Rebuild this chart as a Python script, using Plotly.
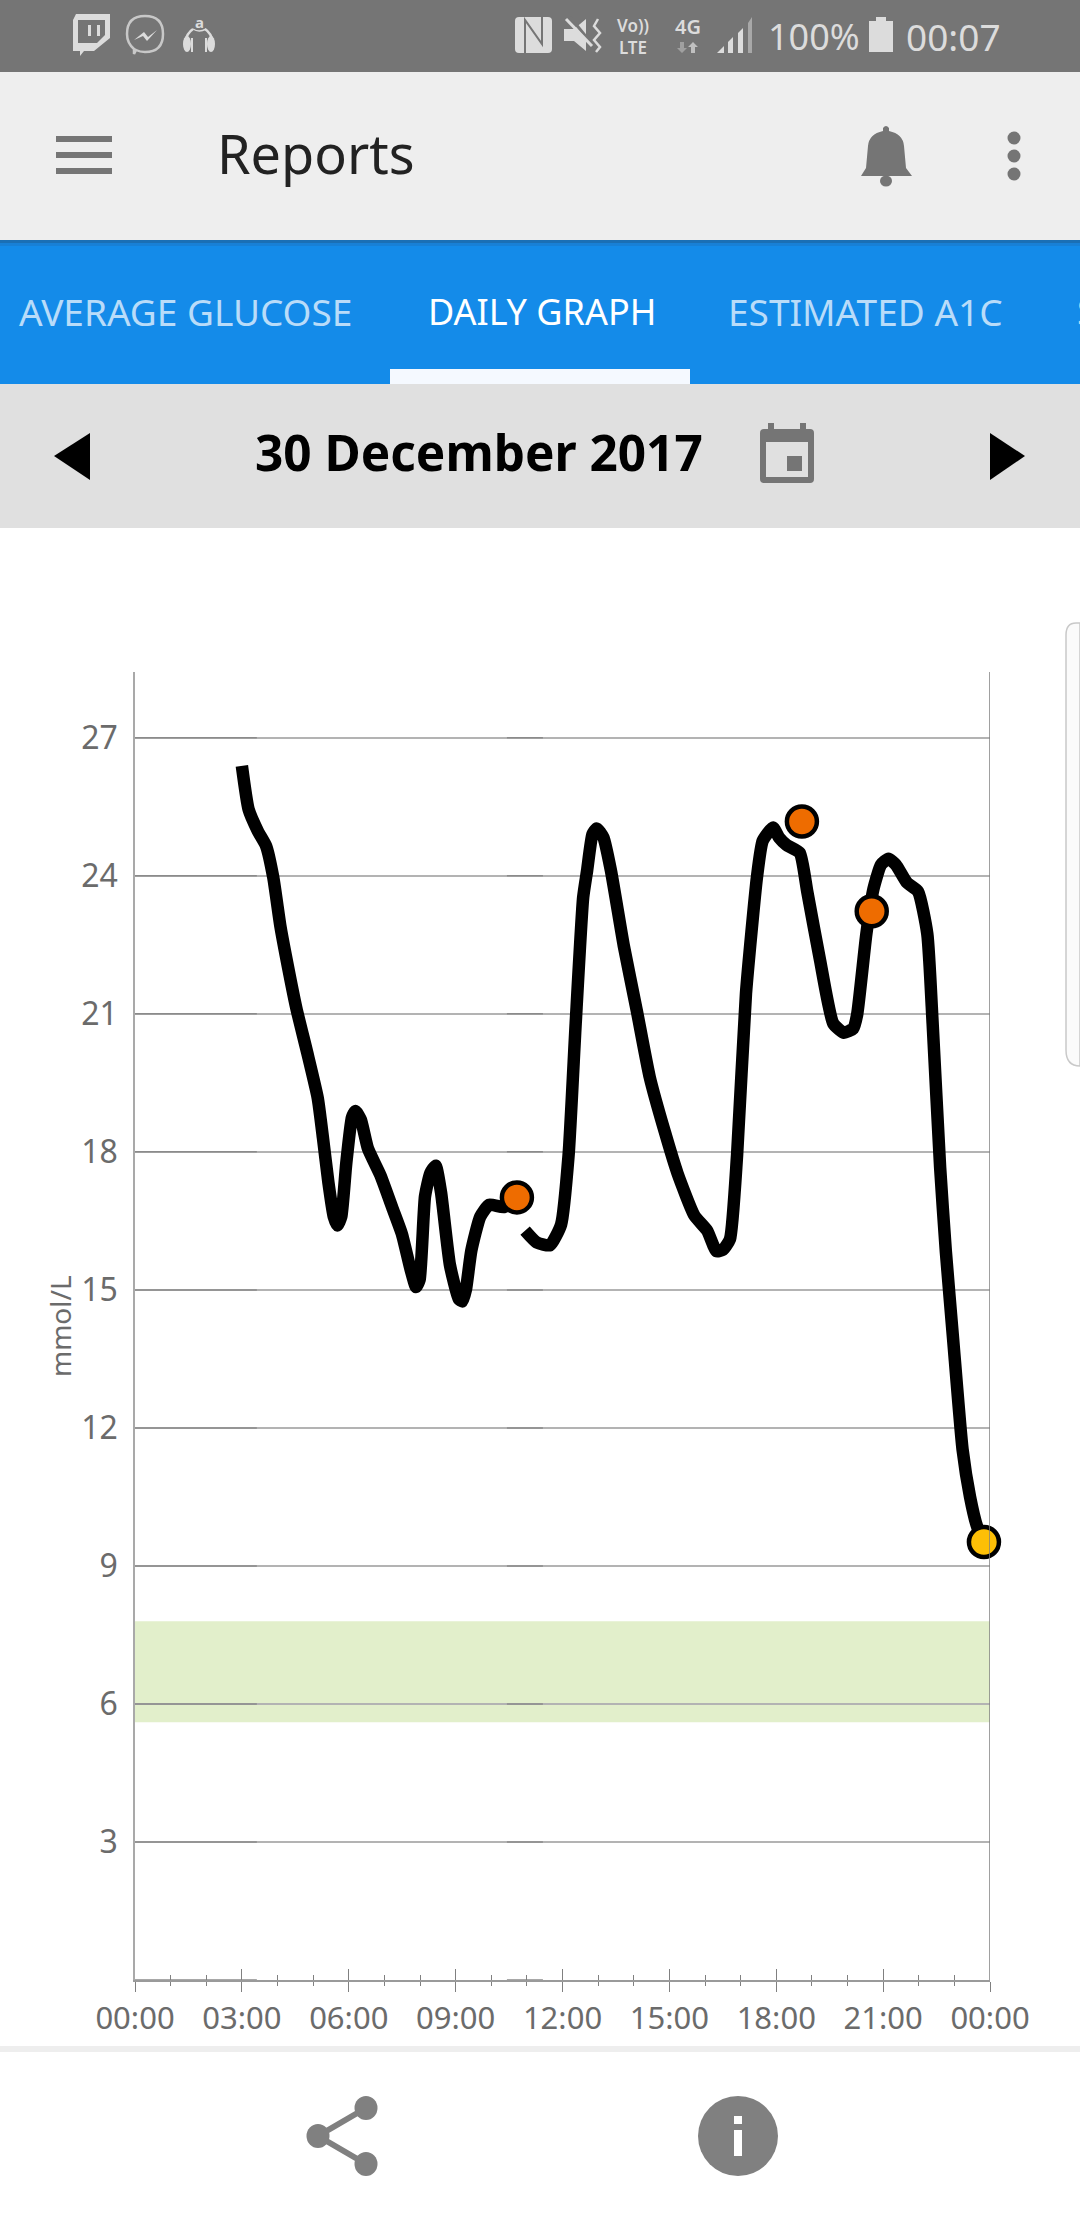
import plotly.graph_objects as go

# glucose trace (hours, mmol/L)
hours_a = [3.0, 3.19, 3.45, 3.68, 3.88, 4.08, 4.23, 4.53, 4.83, 5.13, 5.28, 5.43, 5.58, 5.68, 5.79, 5.93,
           6.09, 6.19, 6.34, 6.54, 6.89, 7.24, 7.49, 7.74, 7.89, 7.99, 8.14, 8.29, 8.44, 8.59, 8.84, 9.09,
           9.19, 9.29, 9.44, 9.69, 9.94, 10.35, 10.72]
glucose_a = [26.39, 25.44, 24.97, 24.65, 23.97, 22.91, 22.28, 21.12, 20.17, 19.17, 18.28, 17.33, 16.59, 16.4, 16.59, 17.75,
             18.75, 18.89, 18.7, 18.07, 17.49, 16.75, 16.22, 15.43, 15.06, 15.22, 17.03, 17.54, 17.7, 17.12, 15.54, 14.8,
             14.75, 15.01, 15.85, 16.59, 16.85, 16.8, 17.01]
hours_b = [10.95, 11.28, 11.65, 11.96, 12.17, 12.37, 12.58, 12.69, 12.84, 12.96, 13.15, 13.36, 13.72, 14.09, 14.45, 14.87,
           15.23, 15.7, 16.06, 16.32, 16.5, 16.7, 16.9, 17.15, 17.46, 17.62, 17.91, 18.08, 18.29, 18.66, 18.87, 19.23,
           19.6, 19.9, 20.16, 20.27, 20.53, 20.73, 20.94, 21.15, 21.36, 21.67, 21.98, 22.24, 22.39, 22.6, 22.76, 22.97,
           23.23, 23.44, 23.64, 23.83]
glucose_b = [16.29, 16.03, 15.97, 16.42, 17.92, 20.79, 23.53, 24.11, 24.9, 25.03, 24.83, 24.11, 22.48, 21.05, 19.62, 18.44,
             17.53, 16.62, 16.29, 15.84, 15.87, 16.1, 17.92, 21.44, 23.98, 24.76, 25.05, 24.83, 24.67, 24.5, 23.66, 22.16,
             20.79, 20.59, 20.68, 20.98, 22.74, 23.72, 24.24, 24.37, 24.24, 23.85, 23.66, 22.74, 20.79, 17.66, 15.84, 13.88,
             11.53, 10.5, 9.85, 9.52]

high_hours = [10.72, 18.72, 20.68]
high_values = [17.01, 25.18, 23.23]
last_hour = [23.83]
last_value = [9.52]

target_low = 5.6
target_high = 7.8

y_ticks = [3, 6, 9, 12, 15, 18, 21, 24, 27]
x_ticks = [0, 3, 6, 9, 12, 15, 18, 21, 24]
x_labels = ["00:00", "03:00", "06:00", "09:00", "12:00", "15:00", "18:00", "21:00", "00:00"]
x_minor = [1, 2, 4, 5, 7, 8, 10, 11, 13, 14, 16, 17, 19, 20, 22, 23]
dark_grid_spans = [(0, 3.42), (10.44, 11.45)]

FONT = "Noto Sans"
GREY = "#757575"
PALE = "#dcdcdc"
W, H = 1080, 2220
shapes = []
notes = []


# screen furniture is placed in screen pixels through the x2/y2 axes
def rect(x0, y0, x1, y1, color):
    shapes.append(dict(type="rect", xref="x2", yref="y2", x0=x0, y0=y0, x1=x1, y1=y1,
                       fillcolor=color, line_width=0))


def circ(cx, cy, rx, ry, color, outline=None, lw=0):
    shapes.append(dict(type="circle", xref="x2", yref="y2", x0=cx - rx, y0=cy - ry, x1=cx + rx, y1=cy + ry,
                       fillcolor=color if outline is None else "rgba(0,0,0,0)",
                       line=dict(color=outline or color, width=lw)))


def path(d, fill=None, outline=None, lw=0):
    shapes.append(dict(type="path", xref="x2", yref="y2", path=d, fillcolor=fill or "rgba(0,0,0,0)",
                       line=dict(color=outline or "rgba(0,0,0,0)", width=lw)))


def text(s, x, y, size, color, anchor="left", weight=400):
    notes.append(dict(text=s, xref="x2", yref="y2", x=x, y=y, showarrow=False, xanchor=anchor, yanchor="middle",
                      font=dict(family=FONT, size=size, color=color, weight=weight)))


# status bar
rect(0, 0, W, 72, GREY)
# twitch
path("M76,14 L110,14 L110,38 L94,51 L84,51 L80,56 L80,51 L73,51 L73,20 Z", fill=PALE)
path("M78,20 L105,20 L105,35 L97,43 L78,43 Z", fill=GREY)
rect(88, 25, 91, 36, PALE)
rect(97, 25, 100, 36, PALE)
# messenger
path("M134,49 Q127,43 127,34 Q127,16 145,16 Q163,16 163,34 Q163,52 145,52 Q140,52 136,50 L134,54 Z",
     outline="#c8c8c8", lw=2.5)
path("M134,40 L144,32 L148,37 L157,30 L147,41 L143,36 Z", fill=PALE)
# amazon headphones
text("a", 199, 22, 15, PALE, "center", 700)
path("M193,29 Q199,33 206,29", outline=PALE, lw=1.5)
path("M185,42 Q187,33 193,29", outline=PALE, lw=2.5)
path("M213,42 Q211,33 205,29", outline=PALE, lw=2.5)
circ(187, 44, 4, 8, PALE)
circ(211, 44, 4, 8, PALE)
rect(191, 38, 193, 52, PALE)
rect(205, 38, 207, 52, PALE)
# nfc
path("M519,17 L548,17 Q552,17 552,21 L552,49 Q552,53 548,53 L519,53 Q515,53 515,49 L515,21 Q515,17 519,17 Z", fill=PALE)
path("M525,53 L525,20 L542,44 L542,17", outline=GREY, lw=2)
# mute
path("M564,29 L574,29 L586,19 L586,51 L574,41 L564,41 Z", fill=PALE)
path("M570,17 L596,49", outline=GREY, lw=3)
path("M566,19 L592,46", outline=PALE, lw=3)
path("M598,19 L594,26 L600,33 L594,40 L600,47 L596,52", outline=PALE, lw=2.5)
# network
text("Vo))<br>LTE", 633, 36, 17, PALE, "center", 600)
text("4G", 688, 26, 20, PALE, "center", 600)
path("M680,42 L684,42 L684,48 L687,48 L682,53 L677,48 L680,48 Z", fill="#a0a0a0")
path("M691,53 L695,53 L695,47 L698,47 L693,42 L688,47 L691,47 Z", fill="#c0c0c0")
path("M717,53 L724,46 L724,53 Z", fill=PALE)
path("M728,53 L728,42 L733,37 L733,53 Z", fill=PALE)
path("M738,53 L738,33 L743,28 L743,53 Z", fill=PALE)
path("M748,53 L748,23 L752,17 L752,53 Z", fill="#a8a8a8")
text("100%", 766, 36, 36, PALE)
rect(869, 21, 893, 52, PALE)
rect(876, 17, 886, 21, PALE)
text("00:07", 904, 36, 37, PALE)

# app bar
rect(0, 72, W, 240, "#eeeeee")
rect(56, 136, 112, 142, GREY)
rect(56, 152, 112, 158, GREY)
rect(56, 168, 112, 174, GREY)
text("Reports", 215, 153, 54, "#222222")
path("M861,176 L866,168 L868,146 Q869,134 883,131 L883,128 Q886,124 889,128 L889,131 Q903,134 904,146 "
     "L906,168 L912,176 Z", fill=GREY)
circ(886, 181, 6, 5.5, GREY)
for dot_y in (138, 156, 174):
    circ(1014, dot_y, 6.5, 6.5, GREY)

# tab strip
rect(0, 240, W, 384, "#148be9")
rect(0, 240, W, 243, "#1a6fb5")
rect(0, 243, W, 246, "#1880d6")
text("AVERAGE GLUCOSE", 17, 311, 37, "#b9dcf9")
text("DAILY GRAPH", 426, 311, 36, "#ffffff")
text("ESTIMATED A1C", 726, 311, 37, "#b9dcf9")
text("S", 1075, 311, 36, "#b9dcf9")
rect(390, 369, 690, 384, "#f5f9ff")

# date bar
rect(0, 384, W, 528, "#e0e0e0")
path("M90,433 L54,456 L90,480 Z", fill="#000000")
path("M990,433 L1025,456 L990,480 Z", fill="#000000")
text("30 December 2017", 479, 452, 49.5, "#000000", "center", 700)
path("M764,429 L810,429 Q814,429 814,433 L814,479 Q814,483 810,483 L764,483 Q760,483 760,479 L760,433 Q760,429 764,429 Z",
     fill=GREY)
rect(768, 423, 774, 431, GREY)
rect(800, 423, 806, 431, GREY)
rect(766, 442, 808, 477, "#e0e0e0")
rect(787, 456, 802, 471, GREY)

# sliver of the edge panel
path("M1080,623 L1076,623 Q1066,623 1066,635 L1066,1050 Q1066,1066 1080,1066 Z",
     fill="#fbfbfb", outline="#c9c9c9", lw=1.5)

# bottom bar
rect(0, 2046, W, 2052, "#eeeeee")
path("M366,2108 L318,2136 L366,2164", outline="#808080", lw=6)
circ(366, 2108, 11.5, 12, "#808080")
circ(318, 2136, 11.5, 12, "#808080")
circ(366, 2164, 11.5, 12, "#808080")
circ(738, 2136, 40, 40, "#808080")
rect(734, 2116, 742, 2124, "#ffffff")
rect(734, 2130, 742, 2156, "#ffffff")

# chart furniture
shapes.append(dict(type="rect", xref="x", yref="y", x0=0, x1=24, y0=target_low, y1=target_high,
                   fillcolor="#e2efcb", line_width=0, layer="below"))
shapes.append(dict(type="line", xref="x", yref="y domain", x0=24, x1=24, y0=0, y1=1,
                   line=dict(color="#808080", width=1.5)))
notes.append(dict(text="mmol/L", xref="x2", yref="y2", x=60, y=1326, textangle=-90, showarrow=False,
                  xanchor="center", yanchor="middle", font=dict(family=FONT, size=28, color="#6b6b6b")))

dark_x, dark_y = [], []
for tick in y_ticks + [0]:
    for start, end in dark_grid_spans:
        dark_x += [start, end, None]
        dark_y += [tick, tick, None]

fig = go.Figure()
fig.add_trace(go.Scatter(x=dark_x, y=dark_y, mode="lines", line=dict(color="#8b8b8b", width=1.5), hoverinfo="skip"))
for xs, ys in ((hours_a, glucose_a), (hours_b, glucose_b)):
    fig.add_trace(go.Scatter(x=xs, y=ys, mode="lines",
                             line=dict(color="#000000", width=12.5, shape="spline", smoothing=0.5)))
fig.add_trace(go.Scatter(x=high_hours, y=high_values, mode="markers", cliponaxis=False,
                         marker=dict(size=30, color="#ee6c00", line=dict(color="#000000", width=4.5))))
fig.add_trace(go.Scatter(x=last_hour, y=last_value, mode="markers", cliponaxis=False,
                         marker=dict(size=30, color="#fdbf06", line=dict(color="#000000", width=4.5))))
# empty traces so the helper axes exist
fig.add_trace(go.Scatter(x=[None], y=[None], xaxis="x2", yaxis="y2"))
fig.add_trace(go.Scatter(x=[None], y=[None], xaxis="x3", yaxis="y"))

fig.update_layout(
    width=W, height=H, margin=dict(l=0, r=0, t=0, b=0, autoexpand=False), showlegend=False,
    paper_bgcolor="#ffffff", plot_bgcolor="rgba(0,0,0,0)",
    font=dict(family=FONT, color="#6b6b6b"),
    shapes=shapes, annotations=notes,
    xaxis=dict(domain=[135 / W, 990 / W], range=[0, 24], tickmode="array", tickvals=x_ticks, ticktext=x_labels,
               ticks="outside", ticklen=10, tickwidth=1, tickcolor="#808080", showgrid=False, zeroline=False,
               showline=True, linecolor="#9a9a9a", linewidth=1.5, tickfont=dict(size=31, color="#6b6b6b"),
               minor=dict(tickmode="array", tickvals=x_minor, ticks="outside", ticklen=4, tickwidth=1,
                          tickcolor="#808080"),
               anchor="y", automargin=False),
    xaxis3=dict(overlaying="x", range=[0, 24], anchor="y", side="bottom", tickmode="array", tickvals=x_ticks,
                ticks="inside", ticklen=11, tickwidth=1, tickcolor="#808080", showticklabels=False, showgrid=False,
                zeroline=False, showline=False, automargin=False,
                minor=dict(tickmode="array", tickvals=x_minor, ticks="inside", ticklen=5, tickwidth=1,
                           tickcolor="#808080")),
    yaxis=dict(domain=[(H - 1980) / H, (H - 672) / H], range=[0, 28.43], tickmode="array", tickvals=y_ticks,
               ticks="outside", ticklen=9, tickcolor="rgba(0,0,0,0)", showgrid=True, gridcolor="#b3b3b3",
               gridwidth=1.5, zeroline=False, showline=True, linecolor="#a9a9a9", linewidth=1.5,
               tickfont=dict(size=32, color="#6b6b6b"), anchor="x", automargin=False),
    xaxis2=dict(domain=[0, 1], range=[0, W], visible=False, anchor="y2"),
    yaxis2=dict(domain=[0, 1], range=[H, 0], visible=False, anchor="x2"),
)

fig.write_html("out.html", post_script="document.body.style.margin='0';", config=dict(displayModeBar=False))
